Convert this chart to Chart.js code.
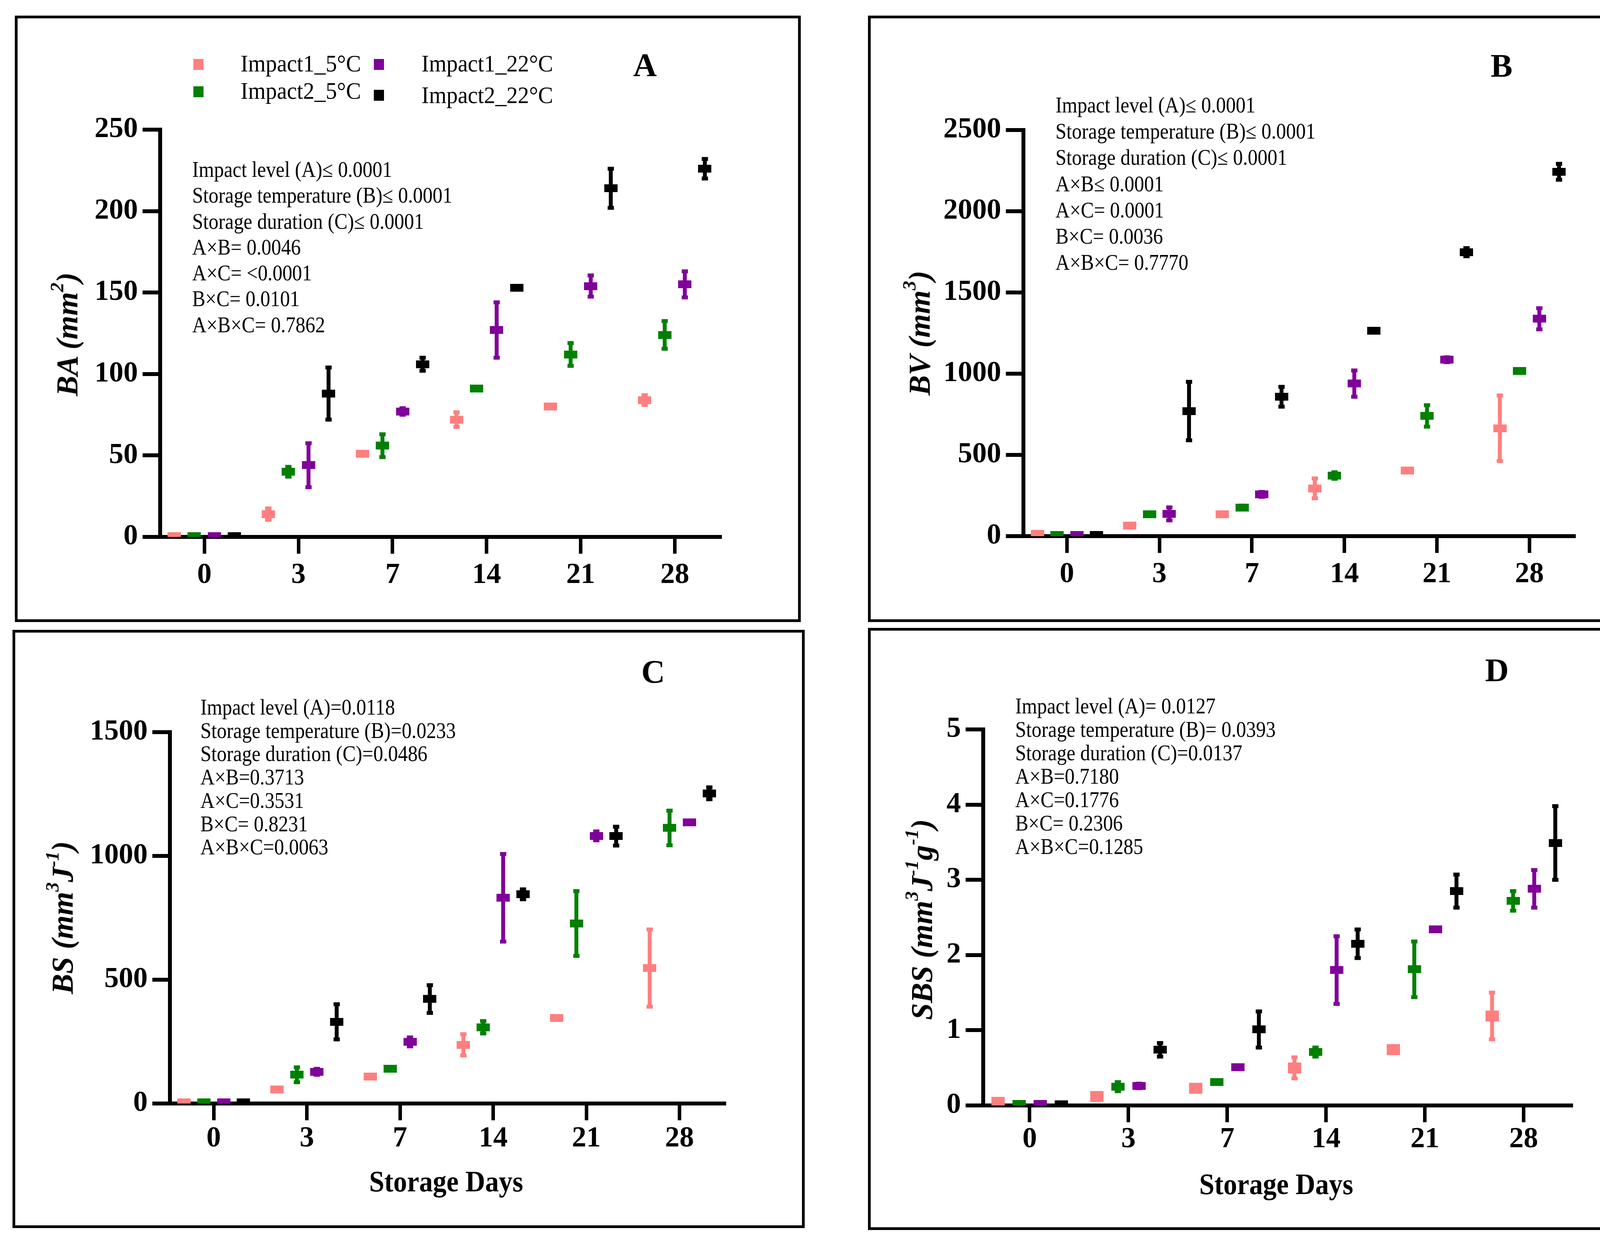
<!DOCTYPE html>
<html>
<head>
<meta charset="utf-8">
<script src="https://cdn.jsdelivr.net/npm/chart.js@4.4.1/dist/chart.umd.min.js"></script>
<style>
html, body { margin: 0; padding: 0; background: #fff; }
#page { position: relative; width: 4268px; height: 3173px; overflow: hidden;
        font-family: 'Liberation Serif', 'Times New Roman', serif; color: #000; }
.box { position: absolute; border: 7px solid #000; box-sizing: border-box; }
.panel-canvas { position: absolute; }
.stats { position: absolute; font-size: 56px; white-space: pre; transform: scaleX(0.9); transform-origin: 0 0; }
.letter { position: absolute; font-weight: bold; font-size: 84px; line-height: 1; transform: translate(-50%, -50%); }
.ytitle { position: absolute; font-weight: bold; font-style: italic; font-size: 78px; line-height: 1; white-space: nowrap;
          transform: translate(-50%, -50%) rotate(-90deg); }
.ytitle sup { font-size: 0.62em; vertical-align: 0.75em; line-height: 0; }
.xtitle { position: absolute; font-weight: bold; font-size: 76px; line-height: 1; white-space: nowrap;
          transform: translate(-50%, -50%) scaleX(0.92); }
.leg-mark { position: absolute; width: 26px; height: 28px; }
.leg-text { position: absolute; font-size: 62px; line-height: 1; white-space: nowrap;
            transform: translateY(-50%) scaleX(0.93); transform-origin: 0 50%; }
</style>
</head>
<body>
<div id="page">
  <div class="box" style="left:38px;top:40px;width:2012px;height:1553px"></div>
  <div class="box" style="left:2222px;top:40px;width:2016px;height:1553px"></div>
  <div class="box" style="left:32px;top:1613px;width:2028px;height:1532px"></div>
  <div class="box" style="left:2222px;top:1608px;width:2022px;height:1542px"></div>

  <canvas id="chartA" class="panel-canvas" width="2012" height="1553" style="left:38px;top:40px"></canvas>
  <canvas id="chartB" class="panel-canvas" width="2016" height="1553" style="left:2222px;top:40px"></canvas>
  <canvas id="chartC" class="panel-canvas" width="2028" height="1532" style="left:32px;top:1613px"></canvas>
  <canvas id="chartD" class="panel-canvas" width="2022" height="1542" style="left:2222px;top:1608px"></canvas>

  <div id="legend"></div>

  <div class="letter" style="left:1651px;top:167px">A</div>
  <div class="letter" style="left:3844px;top:169px">B</div>
  <div class="letter" style="left:1672px;top:1721px">C</div>
  <div class="letter" style="left:3832px;top:1717px">D</div>

  <div class="ytitle" style="left:172px;top:856px">BA (mm<sup>2</sup>)</div>
  <div class="ytitle" style="left:2354px;top:853px">BV (mm<sup>3</sup>)</div>
  <div class="ytitle" style="left:160px;top:2350px">BS (mm<sup>3</sup>J<sup>-1</sup>)</div>
  <div class="ytitle" style="left:2360px;top:2355px">SBS (mm<sup>3</sup>J<sup>-1</sup>g<sup>-1</sup>)</div>

  <div class="xtitle" style="left:1142px;top:3025px">Storage Days</div>
  <div class="xtitle" style="left:3267px;top:3032px">Storage Days</div>

  <div id="statsA" class="stats" style="left:492px;top:401px;line-height:66.3px"></div>
  <div id="statsB" class="stats" style="left:2702px;top:236px;line-height:67.2px"></div>
  <div id="statsC" class="stats" style="left:513px;top:1782px;line-height:59.7px"></div>
  <div id="statsD" class="stats" style="left:2599px;top:1778px;line-height:60px"></div>
</div>

<script>
// Categories and series
const days = ['0', '3', '7', '14', '21', '28'];
const seriesNames = ['Impact1_5°C', 'Impact2_5°C', 'Impact1_22°C', 'Impact2_22°C'];
const seriesColors = ['#ff7f7f', '#008000', '#800099', '#000000'];
const seriesOffsets = [-0.32, -0.107, 0.107, 0.32];

// BA (mm2): rows = series, columns = days
const baMeans = [
    [0.5, 14, 51, 72, 80, 84],
    [0.5, 40, 56, 91, 112, 124],
    [0.5, 44, 77, 127, 154, 155],
    [0.5, 88, 106, 153, 214, 226]
];
const baErrors = [
    [0, 3.5, 0, 4.5, 1, 3],
    [0, 3, 7, 0, 7, 8.5],
    [0, 13.5, 2, 17, 6.5, 8],
    [0, 16, 4, 0, 12, 6]
];

// BV (mm3)
const bvMeans = [
    [15, 66, 135, 294, 404, 664],
    [8, 135, 176, 373, 740, 1017],
    [8, 137, 257, 939, 1086, 1338],
    [8, 770, 858, 1265, 1748, 2243]
];
const bvErrors = [
    [0, 0, 0, 61, 0, 202],
    [0, 0, 12, 20, 66, 10],
    [0, 40, 15, 81, 15, 65],
    [0, 180, 61, 0, 25, 49]
];

// BS (mm3 J-1)
const bsMeans = [
    [5, 56, 109, 237, 345, 547],
    [4, 116, 140, 308, 727, 1113],
    [4, 128, 249, 831, 1081, 1136],
    [5, 330, 422, 845, 1080, 1253]
];
const bsErrors = [
    [0, 0, 0, 43, 0, 156],
    [0, 30, 0, 25, 131, 70],
    [0, 12, 18, 177, 18, 0],
    [0, 71, 56, 20, 38, 24]
];

// SBS (mm3 J-1 g-1)
const sbsMeans = [
    [0.04, 0.12, 0.23, 0.50, 0.74, 1.19],
    [0.02, 0.25, 0.31, 0.71, 1.81, 2.72],
    [0.02, 0.26, 0.51, 1.80, 2.34, 2.88],
    [0.015, 0.74, 1.01, 2.15, 2.85, 3.49]
];
const sbsErrors = [
    [0, 0, 0, 0.14, 0, 0.31],
    [0, 0.06, 0, 0.06, 0.37, 0.13],
    [0, 0.03, 0, 0.45, 0.02, 0.25],
    [0, 0.09, 0.24, 0.19, 0.22, 0.49]
];

// Significance notes printed inside each panel
const statsA = ['Impact level (A)≤ 0.0001', 'Storage temperature (B)≤ 0.0001', 'Storage duration (C)≤ 0.0001',
    'A×B= 0.0046', 'A×C= <0.0001', 'B×C= 0.0101', 'A×B×C= 0.7862'];
const statsB = ['Impact level (A)≤ 0.0001', 'Storage temperature (B)≤ 0.0001', 'Storage duration (C)≤ 0.0001',
    'A×B≤ 0.0001', 'A×C= 0.0001', 'B×C= 0.0036', 'A×B×C= 0.7770'];
const statsC = ['Impact level (A)=0.0118', 'Storage temperature (B)=0.0233', 'Storage duration (C)=0.0486',
    'A×B=0.3713', 'A×C=0.3531', 'B×C= 0.8231', 'A×B×C=0.0063'];
const statsD = ['Impact level (A)= 0.0127', 'Storage temperature (B)= 0.0393', 'Storage duration (C)=0.0137',
    'A×B=0.7180', 'A×C=0.1776', 'B×C= 0.2306', 'A×B×C=0.1285'];

// Layout
const Y_AXIS_WIDTH = 300;
const X_AXIS_HEIGHT = 200;
const tickFont = { family: "'Liberation Serif', 'Times New Roman', serif", size: 74, weight: 'bold' };

// Error bars drawn with the chart's own y scale
const errorBarPlugin = {
    id: 'errorBars',
    afterDatasetsDraw(chart) {
        const ctx = chart.ctx;
        const yScale = chart.scales.y;
        const area = chart.chartArea;
        ctx.save();
        ctx.beginPath();
        ctx.rect(area.left, area.top - 60, area.right - area.left, area.bottom - area.top + 60);
        ctx.clip();
        chart.data.datasets.forEach((ds, d) => {
            const meta = chart.getDatasetMeta(d);
            ctx.fillStyle = ds.backgroundColor;
            meta.data.forEach((pt, i) => {
                const err = ds.errors[i];
                if (!err) return;
                const v = ds.data[i].y;
                const yHi = yScale.getPixelForValue(v + err);
                const yLo = yScale.getPixelForValue(v - err);
                ctx.fillRect(pt.x - 5, yHi, 10, yLo - yHi);
                ctx.fillRect(pt.x - 8, yHi - 5, 16, 10);
                ctx.fillRect(pt.x - 8, yLo - 5, 16, 10);
            });
        });
        ctx.restore();
    }
};

function markerImage(color, w, h) {
    const c = document.createElement('canvas');
    c.width = w;
    c.height = h;
    const g = c.getContext('2d');
    g.fillStyle = color;
    g.fillRect(0, 0, w, h);
    return c;
}

// box: canvas rect on the page, area: wanted plot area on the page
function makeChart(id, means, errors, yMax, yStep, box, area, markerHeights, labelPad) {
    const datasets = seriesNames.map((name, s) => ({
        label: name,
        data: means[s].map((v, i) => ({ x: i + seriesOffsets[s], y: v })),
        errors: errors[s],
        backgroundColor: seriesColors[s],
        borderWidth: 0,
        pointStyle: markerImage(seriesColors[s], 34, markerHeights[s]),
        pointRadius: 12,
        showLine: false
    }));

    return new Chart(document.getElementById(id), {
        type: 'scatter',
        data: { datasets },
        plugins: [errorBarPlugin],
        options: {
            responsive: false,
            animation: false,
            devicePixelRatio: 1,
            layout: {
                padding: {
                    left: area.x0 - box.left - Y_AXIS_WIDTH,
                    right: box.left + box.width - area.x1,
                    top: area.yTop - box.top,
                    bottom: box.top + box.height - area.yBot - X_AXIS_HEIGHT
                }
            },
            plugins: {
                legend: { display: false },
                tooltip: { enabled: false }
            },
            scales: {
                x: {
                    type: 'linear',
                    min: -0.47,
                    max: 5.48,
                    z: 1,
                    afterBuildTicks: (scale) => { scale.ticks = days.map((d, i) => ({ value: i })); },
                    afterFit: (scale) => { scale.height = X_AXIS_HEIGHT; },
                    ticks: {
                        callback: (value, index) => days[index],
                        font: tickFont,
                        color: '#000',
                        padding: labelPad,
                        maxRotation: 0,
                        autoSkip: false
                    },
                    grid: { drawOnChartArea: false, drawTicks: true, tickLength: 43, lineWidth: 9, color: '#000' },
                    border: { display: true, width: 10, color: '#000' }
                },
                y: {
                    type: 'linear',
                    min: 0,
                    max: yMax,
                    z: 1,
                    afterFit: (scale) => { scale.width = Y_AXIS_WIDTH; },
                    ticks: {
                        stepSize: yStep,
                        callback: (value) => String(value),
                        font: tickFont,
                        color: '#000',
                        padding: 12
                    },
                    grid: { drawOnChartArea: false, drawTicks: true, tickLength: 45, lineWidth: 10, color: '#000' },
                    border: { display: true, width: 10, color: '#000' }
                }
            }
        }
    });
}

makeChart('chartA', baMeans, baErrors, 250, 50,
    { left: 38, top: 40, width: 2012, height: 1553 }, { x0: 410, x1: 1843, yTop: 332, yBot: 1375 },
    [20, 20, 20, 20], 11);
makeChart('chartB', bvMeans, bvErrors, 2500, 500,
    { left: 2222, top: 40, width: 2016, height: 1553 }, { x0: 2620, x1: 4029, yTop: 333, yBot: 1373 },
    [20, 20, 20, 20], 11);
makeChart('chartC', bsMeans, bsErrors, 1500, 500,
    { left: 32, top: 1613, width: 2028, height: 1532 }, { x0: 435, x1: 1854, yTop: 1875, yBot: 2826 },
    [20, 20, 20, 20], 3);
makeChart('chartD', sbsMeans, sbsErrors, 5, 1,
    { left: 2222, top: 1608, width: 2022, height: 1542 }, { x0: 2517, x1: 4022, yTop: 1868, yBot: 2831 },
    [28, 20, 20, 20], 0);

// Stats notes
document.getElementById('statsA').textContent = statsA.join('\n');
document.getElementById('statsB').textContent = statsB.join('\n');
document.getElementById('statsC').textContent = statsC.join('\n');
document.getElementById('statsD').textContent = statsD.join('\n');

// Legend (panel A, two columns)
const legendSpots = [
    { mx: 495, my: 151, tx: 616, ty: 162 },
    { mx: 495, my: 221, tx: 616, ty: 232 },
    { mx: 957, my: 151, tx: 1079, ty: 162 },
    { mx: 957, my: 230, tx: 1079, ty: 243 }
];
const legend = document.getElementById('legend');
seriesNames.forEach((name, s) => {
    const spot = legendSpots[s];
    const mark = document.createElement('div');
    mark.className = 'leg-mark';
    mark.style.left = spot.mx + 'px';
    mark.style.top = spot.my + 'px';
    mark.style.background = seriesColors[s];
    legend.appendChild(mark);
    const text = document.createElement('div');
    text.className = 'leg-text';
    text.style.left = spot.tx + 'px';
    text.style.top = spot.ty + 'px';
    text.textContent = name;
    legend.appendChild(text);
});
</script>
</body>
</html>
